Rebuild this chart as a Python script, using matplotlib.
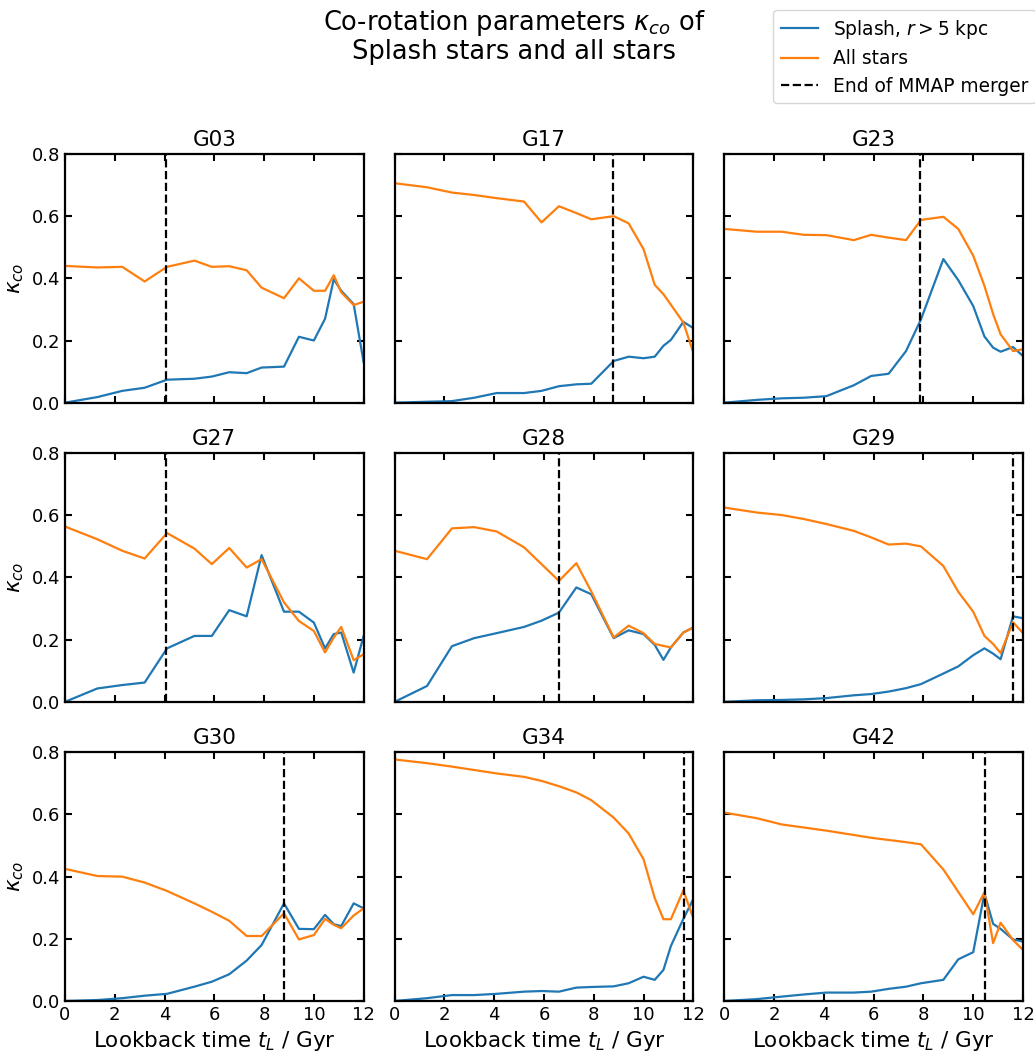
import numpy as np
import matplotlib.pyplot as plt

# lookback times of the snapshots (Gyr)
t_lookback = [0.0, 1.3, 2.3, 3.2, 4.1, 5.2, 5.9, 6.6, 7.3, 7.9, 8.8, 9.4,
              10.0, 10.45, 10.8, 11.1, 11.6, 12.0]

halos = ['G03', 'G17', 'G23', 'G27', 'G28', 'G29', 'G30', 'G34', 'G42']

# end of the MMAP merger for each halo (Gyr)
t_merger = [4.05, 8.78, 7.86, 4.05, 6.6, 11.6, 8.8, 11.64, 10.48]

# kappa_co of splash stars (r > 5 kpc)
k_G03_splash = [0.0, 0.018, 0.038, 0.048, 0.074, 0.077, 0.084, 0.098, 0.095, 0.113, 0.116, 0.212,
                0.20, 0.27, 0.397, 0.36, 0.317, 0.13]
k_G17_splash = [0.0, 0.003, 0.005, 0.016, 0.031, 0.031, 0.038, 0.053, 0.059, 0.061, 0.134, 0.148,
                0.143, 0.148, 0.183, 0.202, 0.26, 0.24]
k_G23_splash = [0.0, 0.009, 0.014, 0.016, 0.021, 0.056, 0.086, 0.093, 0.166, 0.268, 0.462, 0.394,
                0.311, 0.213, 0.177, 0.164, 0.179, 0.15]
k_G27_splash = [0.0, 0.043, 0.054, 0.062, 0.172, 0.212, 0.212, 0.295, 0.275, 0.472, 0.29, 0.29,
                0.255, 0.172, 0.218, 0.223, 0.094, 0.212]
k_G28_splash = [0.0, 0.051, 0.179, 0.205, 0.221, 0.241, 0.261, 0.287, 0.368, 0.346, 0.205, 0.23,
                0.218, 0.183, 0.135, 0.175, 0.223, 0.239]
k_G29_splash = [0.0, 0.005, 0.006, 0.008, 0.012, 0.021, 0.025, 0.033, 0.044, 0.057, 0.091, 0.114,
                0.15, 0.172, 0.155, 0.137, 0.275, 0.269]
k_G30_splash = [0.0, 0.003, 0.009, 0.017, 0.023, 0.046, 0.062, 0.086, 0.13, 0.18, 0.314, 0.232,
                0.231, 0.277, 0.247, 0.241, 0.314, 0.298]
k_G34_splash = [0.0, 0.009, 0.019, 0.019, 0.023, 0.03, 0.032, 0.03, 0.043, 0.045, 0.047, 0.057,
                0.078, 0.068, 0.1, 0.177, 0.264, 0.328]
k_G42_splash = [0.0, 0.006, 0.014, 0.021, 0.027, 0.027, 0.03, 0.039, 0.046, 0.057, 0.068, 0.134,
                0.157, 0.346, 0.248, 0.232, 0.198, 0.191]

# kappa_co of all stars
k_G03_all = [0.44, 0.435, 0.437, 0.39, 0.437, 0.457, 0.437, 0.439, 0.426, 0.37, 0.336, 0.40,
             0.36, 0.36, 0.41, 0.355, 0.314, 0.325]
k_G17_all = [0.706, 0.693, 0.676, 0.668, 0.658, 0.647, 0.58, 0.632, 0.61, 0.59, 0.60, 0.577,
             0.494, 0.379, 0.349, 0.315, 0.258, 0.161]
k_G23_all = [0.559, 0.55, 0.55, 0.54, 0.539, 0.523, 0.54, 0.531, 0.523, 0.588, 0.598, 0.559,
             0.473, 0.376, 0.285, 0.22, 0.166, 0.172]
k_G27_all = [0.564, 0.523, 0.486, 0.461, 0.543, 0.493, 0.443, 0.495, 0.432, 0.459, 0.32, 0.26,
             0.228, 0.159, 0.207, 0.241, 0.134, 0.153]
k_G28_all = [0.486, 0.459, 0.558, 0.562, 0.548, 0.497, 0.443, 0.389, 0.446, 0.355, 0.207, 0.245,
             0.221, 0.186, 0.18, 0.175, 0.223, 0.239]
k_G29_all = [0.625, 0.609, 0.601, 0.588, 0.572, 0.55, 0.529, 0.506, 0.509, 0.5, 0.437, 0.354,
             0.29, 0.212, 0.186, 0.157, 0.256, 0.221]
k_G30_all = [0.425, 0.402, 0.4, 0.381, 0.354, 0.314, 0.287, 0.258, 0.209, 0.209, 0.282, 0.198,
             0.212, 0.264, 0.245, 0.234, 0.275, 0.298]
k_G34_all = [0.777, 0.765, 0.754, 0.743, 0.732, 0.721, 0.708, 0.691, 0.671, 0.646, 0.59, 0.539,
             0.456, 0.331, 0.263, 0.263, 0.356, 0.266]
k_G42_all = [0.606, 0.588, 0.568, 0.558, 0.548, 0.534, 0.525, 0.518, 0.511, 0.504, 0.423, 0.351,
             0.279, 0.35, 0.186, 0.252, 0.196, 0.164]

splash = [k_G03_splash, k_G17_splash, k_G23_splash, k_G27_splash, k_G28_splash,
          k_G29_splash, k_G30_splash, k_G34_splash, k_G42_splash]
allstars = [k_G03_all, k_G17_all, k_G23_all, k_G27_all, k_G28_all,
            k_G29_all, k_G30_all, k_G34_all, k_G42_all]

fig, axes = plt.subplots(3, 3, figsize=(10.35, 10.52), dpi=100, sharex=True, sharey=True)
fig.subplots_adjust(left=0.0628, right=0.9884, bottom=0.0485, top=0.8536,
                    wspace=0.104, hspace=0.203)

for i, ax in enumerate(axes.flat):
    l1, = ax.plot(t_lookback, splash[i], color='C0', lw=1.6, label=r'Splash, $r > 5$ kpc')
    l2, = ax.plot(t_lookback, allstars[i], color='C1', lw=1.6, label='All stars')
    l3 = ax.axvline(t_merger[i], color='k', ls='--', lw=1.6, label='End of MMAP merger')
    ax.set_title(halos[i], fontsize=15.5)
    ax.set_xlim(0, 12)
    ax.set_ylim(0, 0.8)
    ax.set_xticks(np.arange(0, 13, 2))
    ax.set_yticks([0.0, 0.2, 0.4, 0.6, 0.8])
    ax.tick_params(direction='in', top=True, right=True, labelsize=13, length=5, width=1.5)
    for s in ax.spines.values():
        s.set_linewidth(1.6)
    if i % 3 == 0:
        ax.set_ylabel(r'$\kappa_{co}$', fontsize=15.5)
    if i >= 6:
        ax.set_xlabel(r'Lookback time $t_L$ / Gyr', fontsize=15.5)

fig.text(0.497, 0.992, 'Co-rotation parameters $\\kappa_{co}$ of\nSplash stars and all stars',
         ha='center', va='top', fontsize=18.5, linespacing=1.05)
fig.legend(handles=[l1, l2, l3], loc='upper left', bbox_to_anchor=(0.738, 0.999),
           fontsize=13.4, labelspacing=0.45)

plt.savefig('out.png', dpi=100)
